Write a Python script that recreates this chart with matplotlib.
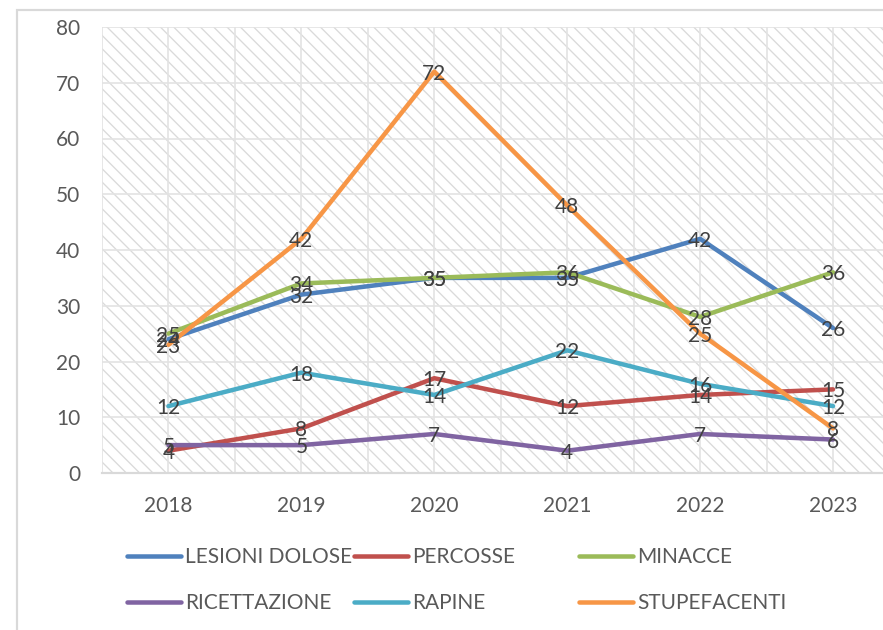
import matplotlib
matplotlib.use("Agg")
import matplotlib.pyplot as plt
from matplotlib.patches import Rectangle
from matplotlib.ticker import MultipleLocator

plt.rcParams["font.family"] = ["Lato", "DejaVu Sans"]
plt.rcParams["hatch.color"] = "#dadada"
plt.rcParams["hatch.linewidth"] = 0.8

years = ["2018", "2019", "2020", "2021", "2022", "2023"]

lesioni_dolose = [24, 32, 35, 35, 42, 26]
percosse = [4, 8, 17, 12, 14, 15]
minacce = [25, 34, 35, 36, 28, 36]
ricettazione = [5, 5, 7, 4, 7, 6]
rapine = [12, 18, 14, 22, 16, 12]
stupefacenti = [23, 42, 72, 48, 25, 8]

series = [
    ("LESIONI DOLOSE", lesioni_dolose, "#4F81BD"),
    ("PERCOSSE", percosse, "#C0504D"),
    ("MINACCE", minacce, "#9BBB59"),
    ("RICETTAZIONE", ricettazione, "#8064A2"),
    ("RAPINE", rapine, "#4BACC6"),
    ("STUPEFACENTI", stupefacenti, "#F79646"),
]

DPI = 120
W, H = 883, 630
fig = plt.figure(figsize=(W / DPI, H / DPI), dpi=DPI)

# outer chart frame (runs off the right/bottom of the canvas)
fig.patches.append(Rectangle((17 / W, -0.1), 1.2, 1 - 10 / H + 0.1,
                             transform=fig.transFigure, fill=False,
                             edgecolor="#d9d9d9", lw=1.3, zorder=0))

left, right, top, bottom = 102, 899.5, 27, 473
ax = fig.add_axes([left / W, 1 - bottom / H, (right - left) / W, (bottom - top) / H])

# hatched plot area
ax.patch.set_alpha(0)
ax.add_patch(Rectangle((0, 0), 1, 1, transform=ax.transAxes, facecolor="white",
                       edgecolor="#dadada", hatch="\\\\\\", lw=0, zorder=-2))

x = list(range(len(years)))
lines = {}
for name, vals, col in series:
    (ln,) = ax.plot(x, vals, color=col, lw=2.7, solid_capstyle="round",
                    solid_joinstyle="round", label=name, zorder=3, clip_on=False)
    lines[name] = ln

for name, vals, col in series:
    for xi, v in zip(x, vals):
        ax.text(xi, v, str(v), ha="center", va="center_baseline", fontsize=12.5,
                color="#404040", zorder=5)

ax.set_xlim(-0.5, 5.5)
ax.set_ylim(0, 80)
ax.yaxis.set_major_locator(MultipleLocator(10))
ax.set_xticks(x)
ax.set_xticklabels(years)
ax.xaxis.set_minor_locator(MultipleLocator(0.5))
ax.grid(True, which="both", axis="x", color="#e3e3e3", lw=1.0, zorder=-1)
ax.grid(True, which="major", axis="y", color="#e3e3e3", lw=1.0, zorder=-1)
ax.set_axisbelow(True)

for s in ("top", "right", "left"):
    ax.spines[s].set_visible(False)
ax.spines["bottom"].set_color("#d9d9d9")
ax.spines["bottom"].set_linewidth(1.3)

ax.tick_params(axis="both", which="both", length=0, colors="#595959", labelsize=12.5)
ax.tick_params(axis="x", pad=14)
ax.tick_params(axis="y", pad=13)

# legend: three columns, two rows
cols = [("LESIONI DOLOSE", "RICETTAZIONE"), ("PERCOSSE", "RAPINE"),
        ("MINACCE", "STUPEFACENTI")]
col_x = [127, 354, 579]
for cx, names in zip(col_x, cols):
    leg = fig.legend([lines[n] for n in names], list(names),
                     loc="upper left", bbox_to_anchor=(cx / W, 1 - 547 / H),
                     frameon=False, fontsize=12.5, handlelength=2.6,
                     handletextpad=0.2, labelspacing=1.25, borderpad=0,
                     borderaxespad=0)
    for t in leg.get_texts():
        t.set_color("#595959")

fig.savefig("out.png", dpi=DPI)
